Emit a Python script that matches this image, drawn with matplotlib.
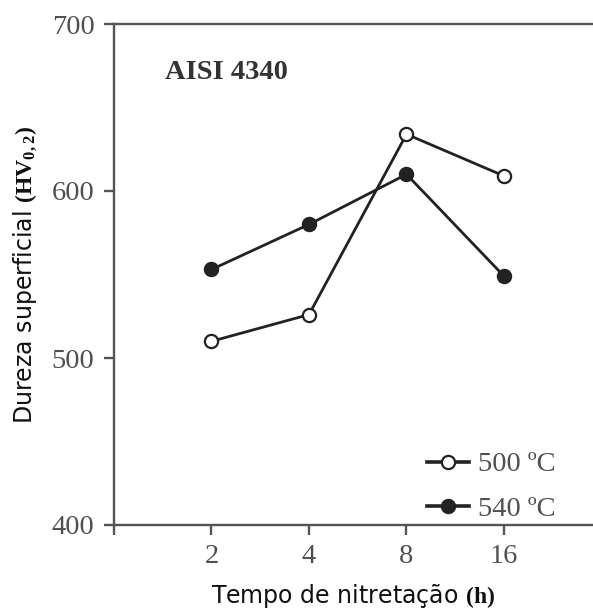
import matplotlib
import matplotlib.pyplot as plt

plt.switch_backend('Agg')

# Dados do grafico
tempos = ['2', '4', '8', '16']
dureza_500 = [510, 526, 634, 609]
dureza_540 = [553, 580, 610, 549]
rotulo_500 = '500 ºC'
rotulo_540 = '540 ºC'

plt.rcParams['font.family'] = ['DejaVu Sans']
plt.rcParams['mathtext.fontset'] = 'custom'
plt.rcParams['mathtext.rm'] = 'Liberation Serif'
plt.rcParams['mathtext.bf'] = 'Liberation Serif:bold'

cinza = '#555555'
texto = '#333333'
linha = '#222222'

fig = plt.figure(figsize=(5.93, 6.11), dpi=100)
ax = fig.add_axes([114 / 593, (611 - 525) / 611, 1 - 114 / 593, 501 / 611])

pos = list(range(1, len(tempos) + 1))
ax.plot(pos, dureza_500, color=linha, lw=2.0, marker='o', ms=9.5,
        mfc='white', mec=linha, mew=1.6, label=rotulo_500)
ax.plot(pos, dureza_540, color=linha, lw=2.0, marker='o', ms=9.5,
        mfc=linha, mec=linha, mew=1.6, label=rotulo_540)

ax.set_xlim(0, (593 - 114) / 97.5)
ax.set_ylim(400, 700)
ax.set_xticks([0] + pos)
ax.set_xticklabels([''] + tempos)
ax.set_yticks([400, 500, 600, 700])

for lado in ['left', 'top', 'bottom']:
    ax.spines[lado].set_color(cinza)
    ax.spines[lado].set_linewidth(1.7)
ax.spines['right'].set_visible(False)

ax.tick_params(direction='out', length=7, width=1.7, color=cinza,
               labelcolor='#505050', pad=7)
for t in ax.get_xticklabels() + ax.get_yticklabels():
    t.set_family('Liberation Serif')
    t.set_fontsize(20.5)

ax.set_xlabel(r'Tempo de nitretação $\mathbf{(h)}$', fontsize=17,
              color='#111111', labelpad=9)
ax.set_ylabel(r'Dureza superficial $\mathbf{(HV_{0,2})}$', fontsize=17,
              color='#111111', labelpad=9)

ax.text(0.106, 0.904, 'AISI 4340', transform=ax.transAxes, fontsize=20.5,
        fontweight='bold', family='Liberation Serif', color=texto, va='center')

leg = ax.legend(loc='lower right', bbox_to_anchor=(0.975, -0.045), frameon=False,
                prop={'family': 'Liberation Serif', 'size': 20.5},
                handlelength=1.5, handletextpad=0.3, labelspacing=0.65)
for t in leg.get_texts():
    t.set_color('#505050')
for h in leg.legend_handles:
    h.set_linewidth(2.6)

fig.savefig('out.png', dpi=100)
